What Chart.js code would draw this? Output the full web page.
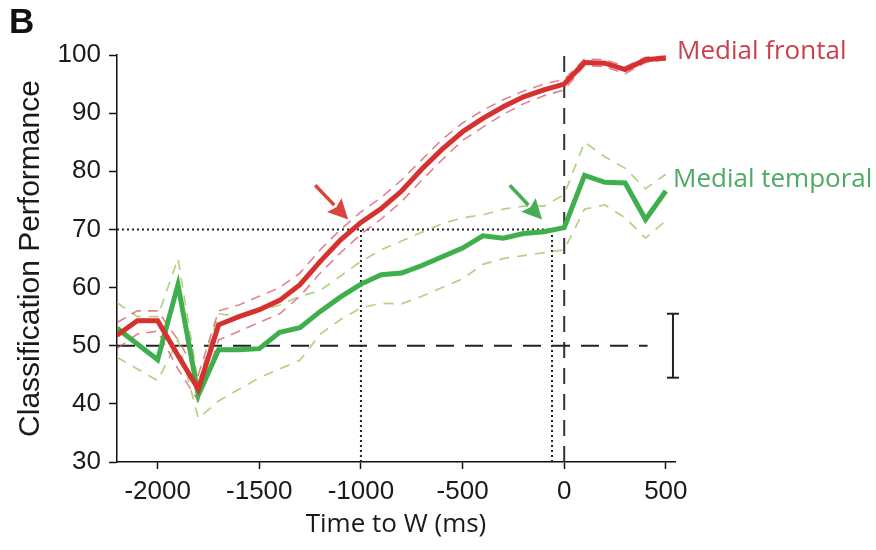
<!DOCTYPE html>
<html><head><meta charset="utf-8">
<script src="https://cdn.jsdelivr.net/npm/chart.js@4/dist/chart.umd.min.js"></script>
<style>html,body{margin:0;padding:0;background:#fff}#wrap{width:876px;height:550px}</style>
</head><body><div id="wrap"><canvas id="c" width="876" height="550"></canvas></div>
<script>
// ---- data ----
const times = [-2200,-2100,-2000,-1900,-1800,-1700,-1600,-1500,-1400,-1300,-1200,-1100,-1000,-900,-800,-700,-600,-500,-400,-300,-200,-100,0,100,200,300,400,500];
const frontalMean  = [51.8,54.3,54.3,48.3,42.5,53.6,55.0,56.2,57.8,60.5,64.5,68.2,71.2,73.6,76.6,80.4,83.8,86.8,89.1,91.1,92.8,94.0,95.0,98.7,98.6,97.5,99.2,99.5];
const frontalUpper = [54.0,56.0,56.0,51.0,45.0,56.0,57.0,58.5,60.0,62.5,66.5,70.0,73.0,75.5,78.5,82.0,85.5,88.3,90.5,92.3,93.8,95.0,95.8,99.3,99.2,98.0,99.6,99.8];
const frontalLower = [49.5,52.0,52.5,46.0,40.5,51.0,52.5,54.0,55.5,58.5,62.5,66.0,69.2,71.8,74.8,78.5,82.0,85.3,87.6,89.8,91.6,93.0,94.0,98.2,98.0,96.8,98.7,99.2];
const temporalMean  = [53.0,50.3,47.6,60.5,41.5,49.3,49.3,49.5,52.3,53.1,55.9,58.4,60.6,62.2,62.5,63.8,65.3,66.8,68.9,68.5,69.3,69.6,70.3,79.3,78.1,78.0,71.7,76.6];
const temporalUpper = [57.4,55.0,55.0,65.0,43.5,55.5,55.0,56.0,57.0,58.5,59.5,62.0,64.5,66.5,68.0,69.5,71.0,72.0,72.5,73.5,74.0,74.0,76.0,85.0,82.5,80.5,77.0,79.5];
const temporalLower = [48.0,46.0,44.0,51.0,37.5,40.5,42.5,44.5,46.0,47.5,52.0,54.5,56.5,57.3,57.2,58.5,60.0,61.5,64.0,65.0,65.5,66.0,66.5,73.5,74.2,72.0,68.5,71.5];
const xTickValues = [-2000,-1500,-1000,-500,0,500];
const yTickValues = [30,40,50,60,70,80,90,100];
const seriesNames = ['Medial frontal','Medial temporal'];
const seriesLabelLevels = [100.6,78.5];
const chanceLevel = 50;
const chanceLineEnd = 410;
const criterionLevel = 70;
const crossTimes = [-1000,-60];
const onsetTime = 0;
const onsetTop = 101;
const errorBarTime = 535;
const errorBarRange = [44.5,55.5];
const redArrow = [[-1225,77.6],[-1063,71.7]];
const greenArrow = [[-268,77.6],[-109,71.7]];

// ---- styles ----
const RED = '#d6302f', GREEN = '#3fae4c';
const RED_BAND = 'rgba(214,90,110,0.75)', GREEN_BAND = 'rgba(170,205,120,0.9)';
const pts = (arr) => times.map((t,i)=>({x:t,y:arr[i]}));

const datasets = [
  {data: pts(frontalMean), borderColor: RED, borderWidth: 5},
  {data: pts(temporalMean), borderColor: GREEN, borderWidth: 5},
  {data: pts(frontalUpper), borderColor: RED_BAND, borderWidth: 1.6, borderDash:[10,7]},
  {data: pts(frontalLower), borderColor: RED_BAND, borderWidth: 1.6, borderDash:[10,7]},
  {data: pts(temporalUpper), borderColor: GREEN_BAND, borderWidth: 1.7, borderDash:[10,8]},
  {data: pts(temporalLower), borderColor: GREEN_BAND, borderWidth: 1.7, borderDash:[10,8]},
  {data: [{x:times[0],y:chanceLevel},{x:chanceLineEnd,y:chanceLevel}], borderColor:'#222', borderWidth:2, borderDash:[18,11]},
  {data: [{x:onsetTime,y:yTickValues[0]},{x:onsetTime,y:onsetTop}], borderColor:'#333', borderWidth:2, borderDash:[16,10], clip:false},
  {data: [{x:times[0],y:criterionLevel},{x:crossTimes[1],y:criterionLevel}], borderColor:'#222', borderWidth:2, borderDash:[2,3]},
  {data: [{x:crossTimes[0],y:yTickValues[0]},{x:crossTimes[0],y:criterionLevel}], borderColor:'#222', borderWidth:2, borderDash:[2,3]},
  {data: [{x:crossTimes[1],y:yTickValues[0]},{x:crossTimes[1],y:criterionLevel}], borderColor:'#222', borderWidth:2, borderDash:[2,3]},
  {data: [{x:errorBarTime,y:errorBarRange[0]},{x:errorBarTime,y:errorBarRange[1]}], borderColor:'#222', borderWidth:2,
   pointStyle:'line', pointRadius:6, pointBorderWidth:2, pointBorderColor:'#222', clip:false}
].map(d => Object.assign({pointRadius:0, tension:0, fill:false}, d));

const overlay = {
  id:'overlay',
  afterDatasetsDraw(chart){
    const {ctx, scales:{x,y}} = chart;
    const arrow = (a, col) => {
      const x1=x.getPixelForValue(a[0][0]), y1=y.getPixelForValue(a[0][1]);
      const x2=x.getPixelForValue(a[1][0]), y2=y.getPixelForValue(a[1][1]);
      const ang=Math.atan2(y2-y1,x2-x1), hl=20, hw=10;
      const bx=x2-hl*Math.cos(ang), by=y2-hl*Math.sin(ang);
      ctx.save();
      ctx.strokeStyle=col; ctx.fillStyle=col; ctx.lineWidth=3.5;
      ctx.beginPath(); ctx.moveTo(x1,y1); ctx.lineTo(bx,by); ctx.stroke();
      ctx.beginPath(); ctx.moveTo(x2,y2);
      ctx.lineTo(bx+hw*Math.sin(ang), by-hw*Math.cos(ang));
      ctx.lineTo(bx+3*Math.cos(ang), by+3*Math.sin(ang));
      ctx.lineTo(bx-hw*Math.sin(ang), by+hw*Math.cos(ang));
      ctx.closePath(); ctx.fill();
      ctx.restore();
    };
    arrow(redArrow, '#d8453c');
    arrow(greenArrow, '#45ad55');
    ctx.save();
    ctx.font = '26px "Open Sans", sans-serif';
    ctx.textBaseline='middle'; ctx.textAlign='left';
    ctx.fillStyle='#c9414f';
    ctx.fillText(seriesNames[0], x.right+2, y.getPixelForValue(seriesLabelLevels[0]));
    ctx.fillStyle='#4eaa62';
    ctx.fillText(seriesNames[1], x.right-2, y.getPixelForValue(seriesLabelLevels[1]));
    ctx.fillStyle='#111';
    ctx.font='bold 35px "Liberation Sans", Arial, sans-serif';
    ctx.textBaseline='top';
    ctx.fillText('B', 9, 6);
    ctx.restore();
  }
};

new Chart(document.getElementById('c'), {
  type:'line',
  data:{datasets},
  plugins:[overlay],
  options:{
    responsive:false, animation:false, devicePixelRatio:1,
    layout:{padding:{top:55,right:201,left:0,bottom:0}},
    plugins:{legend:{display:false}, tooltip:{enabled:false}},
    scales:{
      x:{type:'linear', min:-2200, max:545,
        afterBuildTicks:(s)=>{s.ticks = xTickValues.map(v=>({value:v}));},
        afterFit:(s)=>{s.height = 88;},
        grid:{display:true, drawOnChartArea:false, drawTicks:true, tickLength:7, color:'#111', tickWidth:1.5},
        border:{display:true, color:'#111', width:1.5},
        ticks:{color:'#1a1a1a', padding:7, maxRotation:0, autoSkip:false, callback:(v)=>String(v),
          font:{family:'"Liberation Sans", Arial, sans-serif', size:26}},
        title:{display:true, text:'Time to W (ms)', color:'#1a1a1a', padding:{top:0,bottom:10}, font:{family:'"Open Sans", sans-serif', size:26}}
      },
      y:{type:'linear', min:30, max:100,
        afterBuildTicks:(s)=>{s.ticks = yTickValues.map(v=>({value:v}));},
        afterFit:(s)=>{s.width = 117;},
        grid:{display:true, drawOnChartArea:false, drawTicks:true, tickLength:8, color:'#111', tickWidth:1.5},
        border:{display:true, color:'#111', width:1.5},
        ticks:{color:'#1a1a1a', padding:8, autoSkip:false, callback:(v)=>String(v),
          font:{family:'"Liberation Sans", Arial, sans-serif', size:26}},
        title:{display:true, text:'Classification Performance', color:'#1a1a1a', padding:{top:13,bottom:0}, font:{family:'"Liberation Sans", Arial, sans-serif', size:30}}
      }
    }
  }
});
</script></body></html>
